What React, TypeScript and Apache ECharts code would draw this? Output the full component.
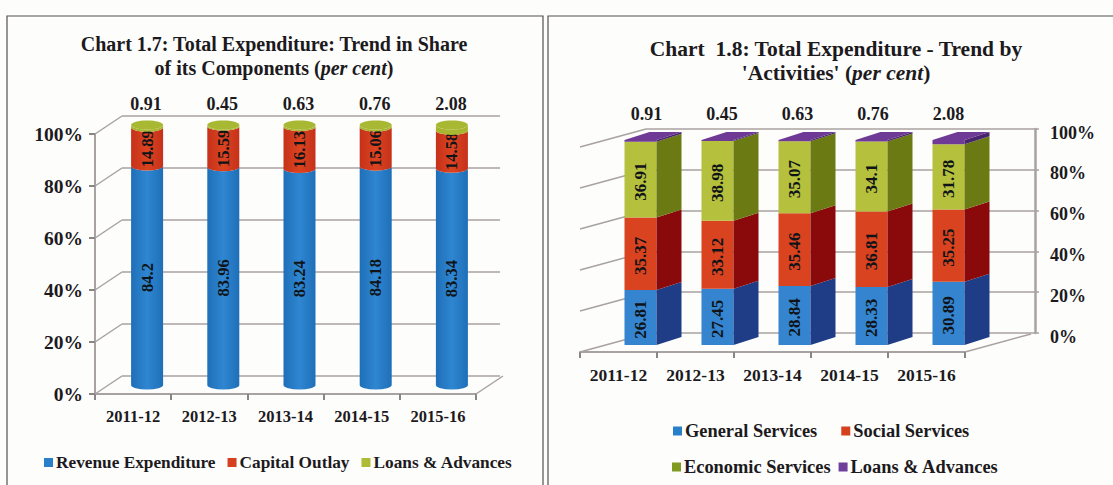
import React, { useEffect, useRef } from "react";
import * as echarts from "echarts";

const years = ["2011-12", "2012-13", "2013-14", "2014-15", "2015-16"];
const revenueExpenditure = [84.2, 83.96, 83.24, 84.18, 83.34];
const capitalOutlay = [14.89, 15.59, 16.13, 15.06, 14.58];
const loansLeft = [0.91, 0.45, 0.63, 0.76, 2.08];
const generalServices = [26.81, 27.45, 28.84, 28.33, 30.89];
const socialServices = [35.37, 33.12, 35.46, 36.81, 35.25];
const economicServices = [36.91, 38.98, 35.07, 34.1, 31.78];
const loansRight = [0.91, 0.45, 0.63, 0.76, 2.08];
const yTicks = [0, 20, 40, 60, 80, 100];

const SERIF = '"Liberation Serif", "Times New Roman", serif';
const INK = "#1c1a1c";
const GRID = "#a8a2a0";

function stacked(parts: number[][]) {
  const base = years.map(() => 0);
  return parts.map((vals) =>
    vals.map((v, i) => {
      const row = [i, base[i], base[i] + v, v];
      base[i] += v;
      return row;
    })
  );
}

function walls(dx: number, dy: number, gridIdx: number) {
  return {
    type: "custom",
    silent: true,
    z: 1,
    xAxisIndex: gridIdx,
    yAxisIndex: gridIdx,
    encode: { x: 0, y: 1 },
    data: yTicks.map((t) => [0, t]),
    renderItem: (_: any, api: any) => {
      const p = api.coord([0, api.value(1)]);
      const x = p[0] - api.size([1, 0])[0] / 2;
      const children: any[] = [
        {
          type: "line",
          shape: { x1: x, y1: p[1], x2: x + dx, y2: p[1] + dy },
          style: { stroke: GRID, lineWidth: 1.5 },
        },
      ];
      if (api.value(1) === 0) {
        const xr = x + api.size([1, 0])[0] * years.length;
        children.push({
          type: "line",
          shape: { x1: xr, y1: p[1], x2: xr + dx, y2: p[1] + dy },
          style: { stroke: GRID, lineWidth: 1.5 },
        });
      }
      return { type: "group", children };
    },
  };
}

function cylinder(name: string, c: string[], rows: number[][], isTop: boolean) {
  const OX = 14, OY = -9, RX = 16, RY = 4.5;
  return {
    type: "custom",
    name,
    z: 3,
    xAxisIndex: 0,
    yAxisIndex: 0,
    encode: { x: 0, y: [1, 2] },
    data: rows,
    renderItem: (_: any, api: any) => {
      const i = api.value(0);
      const a = api.coord([i, api.value(1)]);
      const b = api.coord([i, api.value(2)]);
      const cx = a[0] + OX, yb = a[1] + OY, yt = b[1] + OY;
      const d = `M${cx - RX} ${yb} A${RX} ${RY} 0 0 0 ${cx + RX} ${yb} L${cx + RX} ${yt} A${RX} ${RY} 0 0 1 ${cx - RX} ${yt} Z`;
      const children: any[] = [
        {
          type: "path",
          shape: { pathData: d },
          style: {
            fill: {
              type: "linear", x: 0, y: 0, x2: 1, y2: 0,
              colorStops: [
                { offset: 0, color: c[0] },
                { offset: 0.5, color: c[1] },
                { offset: 1, color: c[0] },
              ],
            },
          },
        },
      ];
      if (isTop) {
        children.push(
          { type: "ellipse", shape: { cx, cy: yt, rx: RX, ry: RY }, style: { fill: c[1] } },
          {
            type: "text",
            style: {
              text: String(api.value(3)), x: cx - 1, y: b[1] - 30,
              font: `bold 18px ${SERIF}`, fill: INK, align: "center", verticalAlign: "middle",
            },
          }
        );
      } else {
        children.push({
          type: "text",
          x: cx,
          y: (yb + yt) / 2 + 2,
          rotation: Math.PI / 2,
          style: {
            text: String(api.value(3)),
            font: `bold 16.5px ${SERIF}`, fill: "#101418", align: "center", verticalAlign: "middle",
          },
        });
      }
      return { type: "group", children };
    },
  };
}

function box(name: string, c: string[], rows: number[][], isTop: boolean) {
  const OX = 6, OY = -7, W = 32, SX = 25, SY = -8;
  return {
    type: "custom",
    name,
    z: 3,
    xAxisIndex: 2,
    yAxisIndex: 2,
    encode: { x: 0, y: [1, 2] },
    data: rows,
    renderItem: (_: any, api: any) => {
      const i = api.value(0);
      const a = api.coord([i, api.value(1)]);
      const b = api.coord([i, api.value(2)]);
      const x0 = a[0] + OX, x1 = x0 + W, yb = a[1] + OY, yt = b[1] + OY;
      const children: any[] = [
        { type: "polygon", shape: { points: [[x0, yb], [x1, yb], [x1, yt], [x0, yt]] }, style: { fill: c[0] } },
        {
          type: "polygon",
          shape: { points: [[x1, yb], [x1 + SX, yb + SY], [x1 + SX, yt + SY], [x1, yt]] },
          style: { fill: c[1] },
        },
      ];
      if (isTop) {
        children.push(
          {
            type: "polygon",
            shape: { points: [[x0, yt], [x1, yt], [x1 + SX, yt + SY], [x0 + SX, yt + SY]] },
            style: { fill: c[0] },
          },
          {
            type: "text",
            style: {
              text: String(api.value(3)), x: (x0 + x1) / 2 + 6 - i * 1.5, y: b[1] - 33,
              font: `bold 18px ${SERIF}`, fill: INK, align: "center", verticalAlign: "middle",
            },
          }
        );
      } else {
        children.push({
          type: "text",
          x: (x0 + x1) / 2,
          y: (yb + yt) / 2 + 2,
          rotation: Math.PI / 2,
          style: {
            text: String(api.value(3)),
            font: `bold 17px ${SERIF}`, fill: "#101418", align: "center", verticalAlign: "middle",
          },
        });
      }
      return { type: "group", children };
    },
  };
}

function legend(items: { name: string; color: string }[], left: number, top: number, gap: number, size: number) {
  return {
    left,
    top,
    itemWidth: 9,
    itemHeight: 9,
    itemGap: gap,
    textStyle: { fontFamily: SERIF, fontWeight: "bold" as const, fontSize: size, color: INK, padding: [0, 0, 0, -2] },
    selectedMode: false,
    data: items.map((it) => ({ name: it.name, icon: "rect", itemStyle: { color: it.color } })),
  };
}

const BLUE = ["#1f6fb8", "#2f86d1"];
const RED = ["#c5311a", "#dc4420"];
const OLIVE = ["#a8b52e", "#a9b832"];
const titleRich = (size: number) => ({
  fontFamily: SERIF,
  fontWeight: "bold" as const,
  fontSize: size,
  color: INK,
  lineHeight: 24,
  align: "center" as const,
  rich: {
    i: { fontFamily: SERIF, fontWeight: "bold" as const, fontStyle: "italic" as const, fontSize: size, color: INK },
  },
});

export default function App() {
  const ref = useRef<HTMLDivElement>(null);
  useEffect(() => {
    const chart = echarts.init(ref.current!, null, { renderer: "svg" });
    const [sRev, sCap, sLoanL] = stacked([revenueExpenditure, capitalOutlay, loansLeft]);
    const [sGen, sSoc, sEco, sLoanR] = stacked([generalServices, socialServices, economicServices, loansRight]);
    const frontX = (gridIndex: number, size: number, show: boolean) => ({
      type: "category",
      gridIndex,
      data: years,
      boundaryGap: true,
      axisLine: { show, lineStyle: { color: GRID, width: 2 } },
      axisTick: { show, length: 6, alignWithLabel: false, lineStyle: { color: "#8a8684", width: 2 } },
      axisLabel: { show, interval: 0, hideOverlap: false, margin: 14, fontFamily: SERIF, fontWeight: "bold", fontSize: size, color: INK },
      splitLine: { show: false },
    });
    const valY = (gridIndex: number, extra: any) => ({
      type: "value",
      gridIndex,
      min: 0,
      max: 100,
      interval: 20,
      splitLine: { show: false },
      axisLine: { show: false },
      axisTick: { show: false },
      axisLabel: { show: false },
      ...extra,
    });
    const labelFmt = (v: number) => `${v}%`;
    const option: any = {
      animation: false,
      backgroundColor: "#fdfdfc",
      graphic: [
        { type: "rect", shape: { x: 7, y: 16, width: 536, height: 490 }, style: { fill: "none", stroke: "#55504f", lineWidth: 1.2 } },
        { type: "rect", shape: { x: 548, y: 16, width: 600, height: 490 }, style: { fill: "none", stroke: "#55504f", lineWidth: 1.2 } },
      ],
      title: [
        {
          text: "Chart 1.7: Total Expenditure: Trend in Share\nof its Components ({i|per cent})",
          left: 269, top: 27, textAlign: "center", textStyle: titleRich(20),
        },
        {
          text: "Chart  1.8: Total Expenditure - Trend by\n'Activities' ({i|per cent})",
          left: 831, top: 32, textAlign: "center", textStyle: titleRich(21.5),
        },
      ],
      legend: [
        legend(
          [
            { name: "Revenue Expenditure", color: "#2a7fc9" },
            { name: "Capital Outlay", color: "#d5401f" },
            { name: "Loans & Advances", color: "#aebb35" },
          ],
          39, 449, 12, 17.3
        ),
        legend(
          [
            { name: "General Services", color: "#2a7fc9" },
            { name: "Social Services", color: "#d5401f" },
          ],
          668, 417, 24, 18.4
        ),
        legend(
          [
            { name: "Economic Services", color: "#7f9a1e" },
            { name: "Loans & Advances", color: "#6f3f9c" },
          ],
          667, 453, 8, 18.4
        ),
      ],
      grid: [
        { left: 95, top: 134, width: 381, height: 260 },
        { left: 122, top: 116, width: 378, height: 260 },
        { left: 580, top: 147, width: 385, height: 205 },
        { left: 646, top: 129, width: 389, height: 204 },
      ],
      xAxis: [
        frontX(0, 16.5, true),
        frontX(1, 16.5, false),
        frontX(2, 17.5, true),
        frontX(3, 17.5, false),
      ],
      yAxis: [
        valY(0, {
          axisLine: { show: true, lineStyle: { color: GRID, width: 2 } },
          axisTick: { show: true, length: 6, lineStyle: { color: "#8a8684", width: 2 } },
          axisLabel: { show: true, margin: 12, formatter: labelFmt, fontFamily: SERIF, fontWeight: "bold", fontSize: 19.5, color: INK },
        }),
        valY(1, { splitLine: { show: true, lineStyle: { color: GRID, width: 1.5 } } }),
        valY(2, {}),
        valY(3, {
          position: "right",
          splitLine: { show: true, lineStyle: { color: GRID, width: 1.5 } },
          axisLine: { show: true, lineStyle: { color: GRID, width: 2.5 } },
          axisTick: { show: true, length: 4, lineStyle: { color: GRID, width: 1.5 } },
          axisLabel: {
            show: true,
            margin: 15,
            formatter: (v: number) => `{a|${v}%}`,
            rich: { a: { padding: [7, 0, 0, 0], fontFamily: SERIF, fontWeight: "bold", fontSize: 18, color: INK } },
          },
        }),
      ],
      series: [
        walls(27, -18, 0),
        walls(66, -18, 2),
        cylinder("Revenue Expenditure", BLUE, sRev, false),
        cylinder("Capital Outlay", RED, sCap, false),
        cylinder("Loans & Advances", OLIVE, sLoanL, true),
        box("General Services", ["#3484cf", "#1f3d86"], sGen, false),
        box("Social Services", ["#d9431f", "#8a0a0c"], sSoc, false),
        box("Economic Services", ["#b5c03d", "#6c7a14"], sEco, false),
        box("Loans & Advances", ["#6f3a96", "#46256e"], sLoanR, true),
      ],
    };
    chart.setOption(option);
    return () => chart.dispose();
  }, []);
  return <div ref={ref} style={{ position: "absolute", left: 0, top: 0, width: 1113, height: 485 }} />;
}
